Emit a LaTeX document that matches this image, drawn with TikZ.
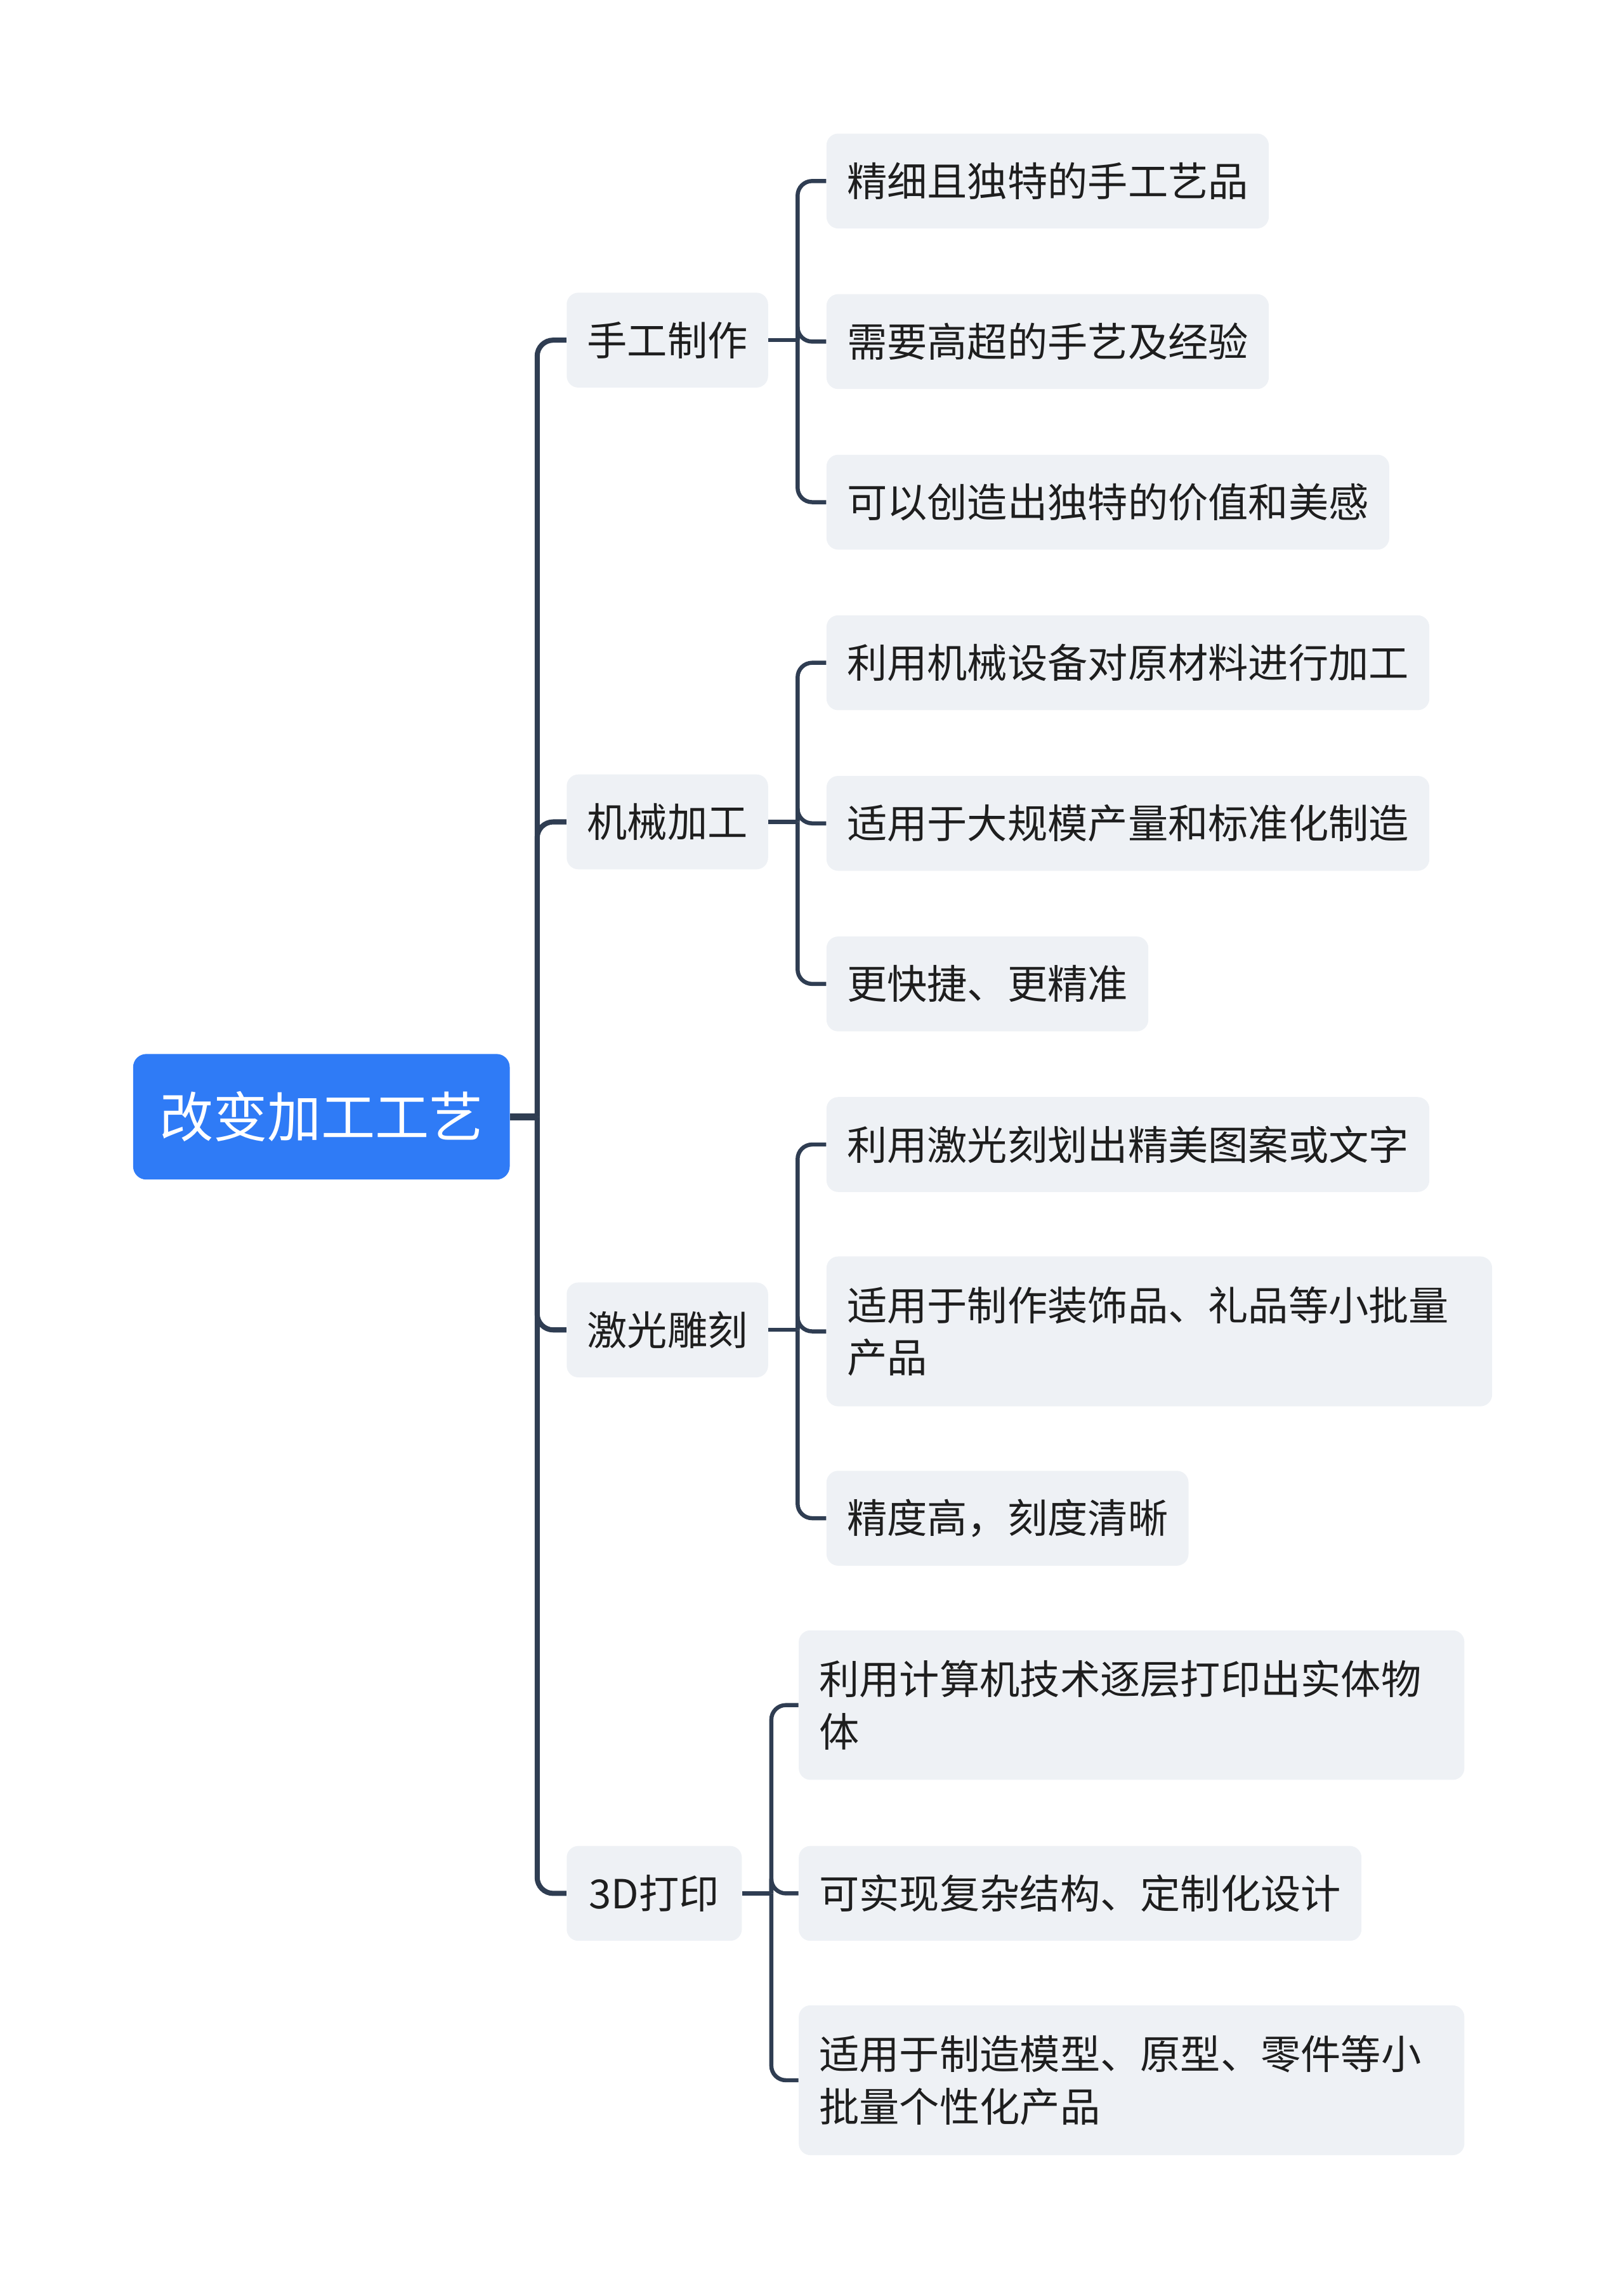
\documentclass[tikz,border=0pt]{standalone}
\usepackage{fontspec}
\setmainfont{Noto Sans CJK SC}
\usepackage{xcolor}
\usepackage{tikz}
\usetikzlibrary{positioning}
\definecolor{rootblue}{HTML}{2F7BF6}
\definecolor{topicgray}{HTML}{EEF1F5}
\definecolor{linkslate}{HTML}{2F3D52}
\definecolor{inkblack}{HTML}{1E1E1E}
\tikzset{
    rootbox/.style={
        fill=rootblue,
        rounded corners=9pt,
        text=white,
        font=\fontsize{37}{44}\selectfont,
        inner xsep=18pt,
        minimum height=86pt,
        anchor=west
    },
    topicbox/.style={
        fill=topicgray,
        rounded corners=8pt,
        text=inkblack,
        font=\fontsize{27.5}{36}\selectfont,
        inner xsep=14pt,
        inner ysep=18pt,
        minimum height=65pt,
        anchor=west
    },
    leafbox/.style={topicbox},
    wrapbox/.style={leafbox, text width=428pt, align=left, inner ysep=20.5pt},
    trunk/.style={draw=linkslate, line width=3.5pt, rounded corners=11pt},
    twig/.style={draw=linkslate, line width=2.8pt, rounded corners=10pt}
}

\begin{document}
\begin{tikzpicture}[x=1pt,y=-1pt]
        \useasboundingbox (0,0) rectangle (1112.5,1568);
        \node[rootbox] (root) at (91,765) {改变加工工艺};
        \coordinate (hub) at (368,765);

        \node[topicbox, minimum width=138pt] (t1) at (388,233) {手工制作};
        \node[topicbox, minimum width=138pt] (t2) at (388,563) {机械加工};
        \node[topicbox, minimum width=138pt] (t3) at (388,911) {激光雕刻};
        \node[topicbox, minimum width=120pt] (t4) at (388,1297) {3D打印};

        \node[leafbox] (a1) at (566,124) {精细且独特的手工艺品};
        \node[leafbox] (a2) at (566,234) {需要高超的手艺及经验};
        \node[leafbox] (a3) at (566,344) {可以创造出独特的价值和美感};

        \node[leafbox] (b1) at (566,454) {利用机械设备对原材料进行加工};
        \node[leafbox] (b2) at (566,564) {适用于大规模产量和标准化制造};
        \node[leafbox] (b3) at (566,674) {更快捷、更精准};

        \node[leafbox] (c1) at (566,784) {利用激光刻划出精美图案或文字};
        \node[wrapbox] (c2) at (566,912) {适用于制作装饰品、礼品等小批量\\产品};
        \node[leafbox] (c3) at (566,1040) {精度高，刻度清晰};

        \node[wrapbox] (d1) at (547,1168) {利用计算机技术逐层打印出实体物\\体};
        \node[leafbox] (d2) at (547,1297) {可实现复杂结构、定制化设计};
        \node[wrapbox] (d3) at (547,1425) {适用于制造模型、原型、零件等小\\批量个性化产品};

        \draw[trunk, line width=5pt] (root.east) -- (hub);
        \foreach \t in {t1,t2,t3,t4}
            \draw[trunk] (hub) |- (\t.west);

        \coordinate[right=20pt of t1] (j1);
        \coordinate[right=20pt of t2] (j2);
        \coordinate[right=20pt of t3] (j3);
        \coordinate[right=20pt of t4] (j4);
        \draw[twig] (t1.east) -- (j1);
        \draw[twig] (t2.east) -- (j2);
        \draw[twig] (t3.east) -- (j3);
        \draw[twig] (t4.east) -- (j4);
        \foreach \l in {a1,a2,a3} \draw[twig] (j1) |- (\l.west);
        \foreach \l in {b1,b2,b3} \draw[twig] (j2) |- (\l.west);
        \foreach \l in {c1,c2,c3} \draw[twig] (j3) |- (\l.west);
        \foreach \l in {d1,d2,d3} \draw[twig] (j4) |- (\l.west);
    \end{tikzpicture}
\end{document}
